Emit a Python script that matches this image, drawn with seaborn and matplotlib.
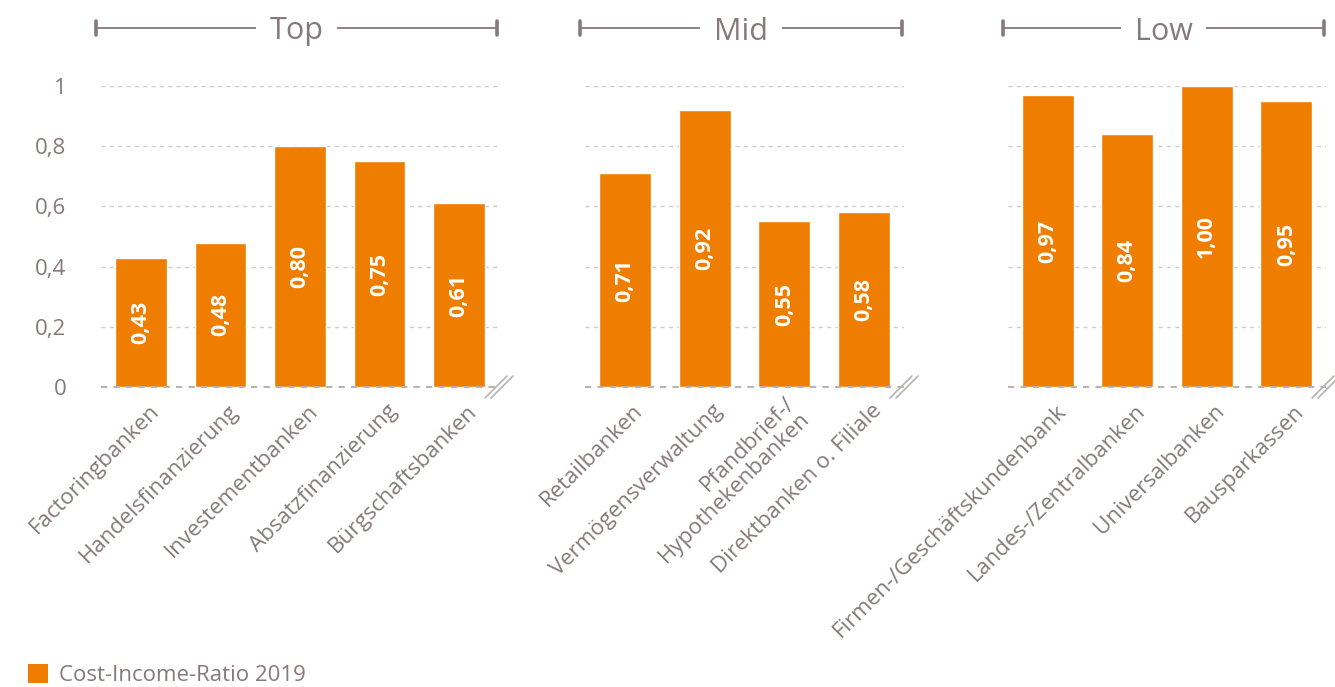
import matplotlib
matplotlib.use("Agg")
import matplotlib.pyplot as plt
from matplotlib.lines import Line2D
from matplotlib.patches import Patch
from matplotlib.transforms import ScaledTranslation
import seaborn as sns

# Cost-Income-Ratio 2019 by bank group
top_labels = ["Factoringbanken", "Handelsfinanzierung", "Investementbanken",
              "Absatzfinanzierung", "Bürgschaftsbanken"]
top_values = [0.43, 0.48, 0.80, 0.75, 0.61]

mid_labels = ["Retailbanken", "Vermögensverwaltung", "Pfandbrief-/\nHypothekenbanken",
              "Direktbanken o. Filiale"]
mid_values = [0.71, 0.92, 0.55, 0.58]

low_labels = ["Firmen-/Geschäftskundenbank", "Landes-/Zentralbanken",
              "Universalbanken", "Bausparkassen"]
low_values = [0.97, 0.84, 1.00, 0.95]

group_titles = ["Top", "Mid", "Low"]
y_ticks = [0, 0.2, 0.4, 0.6, 0.8, 1.0]
y_tick_labels = ["0", "0,2", "0,4", "0,6", "0,8", "1"]
legend_label = "Cost-Income-Ratio 2019"

ORANGE = "#EF7D00"
TEXT = "#857979"
GRID = "#d0cccc"

sns.set_theme(style="white")
plt.rcParams["font.family"] = ["Open Sans", "DejaVu Sans"]

W, H = 1335, 687
fig = plt.figure(figsize=(W / 100, H / 100), dpi=100)

# panel boxes in pixels: left, right, top, bottom
boxes = [(101, 499, 86, 387), (585, 904, 86, 387), (1008, 1326, 86, 387)]
groups = [(top_labels, top_values), (mid_labels, mid_values), (low_labels, low_values)]


def fx(px):
    return px / W


def fy(py):
    return 1 - py / H


for i, ((labels, values), (l, r, t, b), title) in enumerate(zip(groups, boxes, group_titles)):
    ax = fig.add_axes([fx(l), fy(b), fx(r) - fx(l), fy(t) - fy(b)])
    sns.barplot(x=labels, y=values, color=ORANGE, saturation=1, width=0.65, ax=ax,
                zorder=3)
    ax.set_ylim(0, 1)
    ax.set_xlim(-0.5, len(labels) - 0.5)
    for bar in ax.patches:
        bar.set_clip_on(False)
    for s in ax.spines.values():
        s.set_visible(False)
    ax.set_yticks(y_ticks)
    ax.yaxis.grid(True, color=GRID, linestyle=(0, (3, 3)), linewidth=1, zorder=0)
    ax.axhline(0, color="#b8b2b2", linestyle=(0, (3, 3)), linewidth=1.5, zorder=4,
               clip_on=False)
    if i == 0:
        ax.set_yticklabels(y_tick_labels, color=TEXT, fontsize=16)
    else:
        ax.set_yticklabels([])
    ax.tick_params(axis="y", length=0, pad=25)
    ax.tick_params(axis="x", length=0, pad=15)
    ax.set_xticks(range(len(labels)))
    ax.set_xticklabels(labels, rotation=45, ha="right", va="center",
                       rotation_mode="anchor", color=TEXT, fontsize=16,
                       multialignment="right", linespacing=1.0)
    shift = ScaledTranslation(0.15, 0, fig.dpi_scale_trans)
    for lab in ax.get_xticklabels():
        lab.set_transform(lab.get_transform() + shift)
    ax.set_xlabel("")
    ax.set_ylabel("")

    # value labels inside the bars
    for k, v in enumerate(values):
        ax.text(k, v / 2, f"{v:.2f}".replace(".", ","), rotation=90, ha="center",
                va="center", color="white", fontsize=15.5, fontweight="bold", zorder=5)

    # bracket header above the panel
    yb = fy(28)
    x0, x1 = fx(l - 5), fx(r - 2)
    fig.add_artist(Line2D([x0, x1], [yb, yb], color=TEXT, lw=1.3,
                          transform=fig.transFigure))
    for xe in (x0, x1):
        fig.add_artist(Line2D([xe, xe], [fy(21), fy(35)], color=TEXT, lw=2.6,
                              transform=fig.transFigure))
    fig.text((x0 + x1) / 2, fy(39.5), title, ha="center", va="baseline", color=TEXT,
             fontsize=22,
             bbox=dict(facecolor="white", edgecolor="none", boxstyle="square,pad=0.45"))

    # axis break marks at the bottom right
    for off in (0, 6):
        fig.add_artist(Line2D([fx(r - 14 + off), fx(r + 8 + off)], [fy(398), fy(376)],
                              color="#b8b2b2", lw=1.2, transform=fig.transFigure))

handles = [Patch(facecolor=ORANGE, edgecolor="none")]
leg = fig.legend(handles, [legend_label], loc="lower left",
                 bbox_to_anchor=(fx(8), fy(706)), frameon=False, fontsize=16,
                 handlelength=0.9, handleheight=0.9, handletextpad=0.5)
for txt in leg.get_texts():
    txt.set_color(TEXT)

fig.savefig("out.png", dpi=100)
